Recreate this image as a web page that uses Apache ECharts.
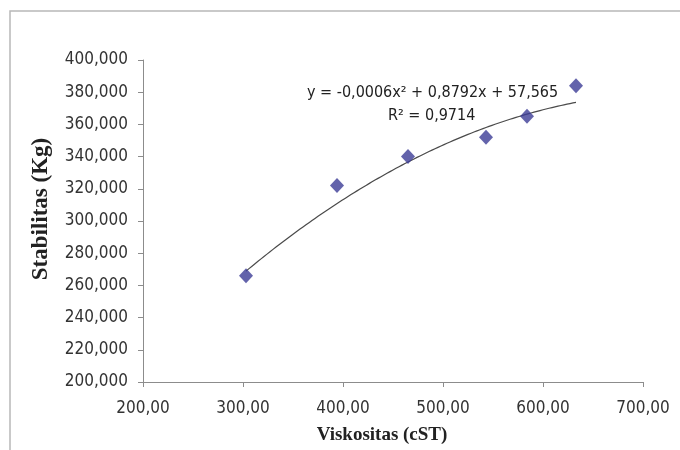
<!DOCTYPE html>
<html>
<head>
<meta charset="utf-8">
<script src="https://cdn.jsdelivr.net/npm/echarts@6/dist/echarts.min.js"></script>
<style>html,body{margin:0;padding:0;background:#fff}#c{width:680px;height:450px}</style>
</head>
<body>
<div id="c"></div>
<script>
// Data
const viskositas = [303, 394, 465, 543, 584, 633];
const stabilitas = [266, 322, 340, 352, 365, 384];
// Trendline coefficients (y = a x^2 + b x + c), as printed on the chart
const trendCoef = [-0.0006, 0.8792, 57.565];
const trendRange = [303, 633];
const eqText = ['y = -0,0006x² + 0,8792x + 57,565', 'R² = 0,9714'];
const xTitle = 'Viskositas (cST)';
const yTitle = 'Stabilitas (Kg)';

const pts = viskositas.map((x, i) => [x, stabilitas[i]]);
const trend = [];
for (let x = trendRange[0]; x <= trendRange[1]; x += 3) {
  trend.push([x, trendCoef[0]*x*x + trendCoef[1]*x + trendCoef[2]]);
}

const labelFont = '"Liberation Sans Narrow", "DejaVu Sans Condensed", "Open Sans", sans-serif';
const chart = echarts.init(document.getElementById('c'));
chart.setOption({
  animation: false,
  grid: {left: 143, right: 37, top: 60, bottom: 67},
  graphic: [
    {type: 'rect', shape: {x: 10, y: 11, width: 720, height: 500}, style: {fill: 'none', stroke: '#b8b8b8', lineWidth: 1.5}, z: -1},
    {type: 'text', left: 307, top: 85, style: {text: eqText[0], font: '16px ' + labelFont, fill: '#222'}},
    {type: 'text', left: 388, top: 108, style: {text: eqText[1], font: '16px ' + labelFont, fill: '#222'}}
  ],
  xAxis: {
    type: 'value', min: 200, max: 700, interval: 100,
    name: xTitle, nameLocation: 'middle', nameGap: 44,
    nameTextStyle: {fontFamily: '"Liberation Serif", serif', fontWeight: 'bold', fontSize: 19, color: '#222', padding: [0, 22, 0, 0]},
    axisLine: {show: true, lineStyle: {color: '#8c8c8c'}},
    axisTick: {show: true, length: 5, lineStyle: {color: '#8c8c8c'}},
    splitLine: {show: false},
    axisLabel: {fontFamily: labelFont, fontSize: 17, color: '#333', margin: 18,
      formatter: v => v.toFixed(2).replace('.', ',')}
  },
  yAxis: {
    type: 'value', min: 200, max: 400, interval: 20,
    name: yTitle, nameLocation: 'middle', nameGap: 90, nameRotate: 90,
    nameTextStyle: {fontFamily: '"Liberation Serif", serif', fontWeight: 'bold', fontSize: 23, color: '#222', padding: [0, 0, 0, 24]},
    axisLine: {show: true, lineStyle: {color: '#8c8c8c'}},
    axisTick: {show: true, length: 5, lineStyle: {color: '#8c8c8c'}},
    splitLine: {show: false},
    axisLabel: {fontFamily: labelFont, fontSize: 17, color: '#333', margin: 15,
      formatter: v => v.toFixed(3).replace('.', ',')}
  },
  series: [
    {type: 'line', data: trend, showSymbol: false, symbol: 'none', smooth: false,
      lineStyle: {color: '#4a4a4a', width: 1.2}, z: 1},
    {type: 'scatter', data: pts, symbol: 'diamond', symbolSize: [14, 15],
      itemStyle: {color: '#3c3c96'}, z: 2}
  ]
});
</script>
</body>
</html>
